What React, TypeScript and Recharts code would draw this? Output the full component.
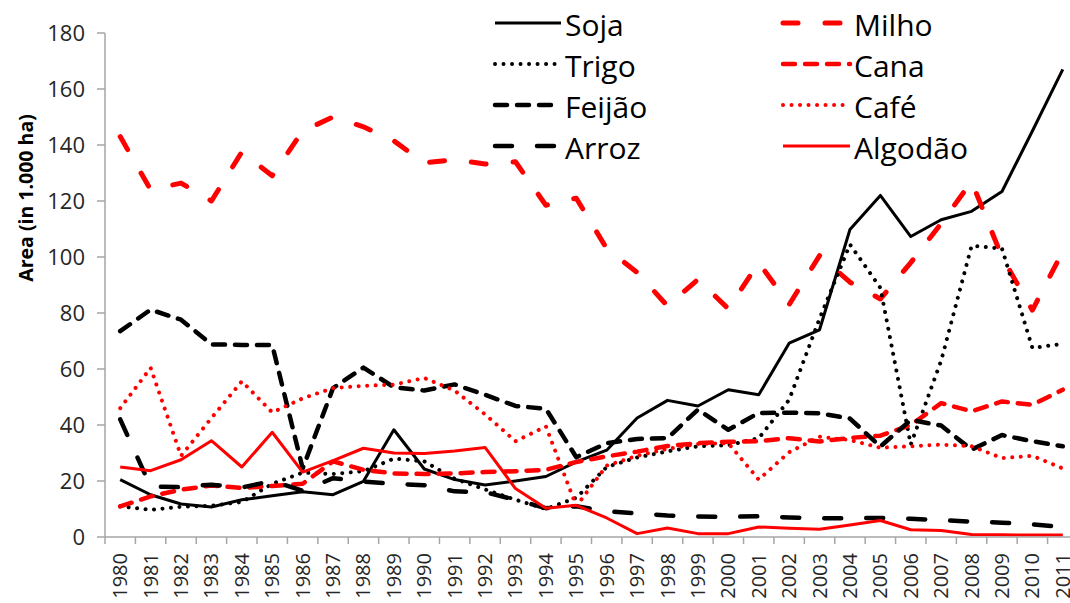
import React from "react";
import { LineChart, Line, XAxis, YAxis, Legend, Label } from "recharts";

// area in 1.000 ha, one value per year
const years = [
  1980, 1981, 1982, 1983, 1984, 1985, 1986, 1987, 1988, 1989, 1990, 1991,
  1992, 1993, 1994, 1995, 1996, 1997, 1998, 1999, 2000, 2001, 2002, 2003,
  2004, 2005, 2006, 2007, 2008, 2009, 2010, 2011,
];
const soja = [
  20.5, 15.1, 11.8, 10.7, 13.3, 14.7, 16.2, 15.1, 19.9, 38.3, 24.3, 20.5,
  18.6, 20, 21.6, 26.8, 31, 42.5, 48.8, 46.8, 52.6, 50.8, 69.2, 74, 109.8,
  122, 107.3, 113.3, 116.3, 123.4, 145, 167,
];
const milho = [
  143, 124, 126.4, 120, 137.5, 129, 145, 150, 146.5, 141.5, 133.6, 134.8,
  133.2, 134, 118.5, 121, 103, 94.5, 82.5, 92, 81.5, 98, 83, 100.5, 91, 85,
  98, 112, 127, 100, 81, 102,
];
const trigo = [
  11, 9.7, 10.8, 11.2, 12.5, 19, 23, 22.5, 23.5, 28, 27, 20.8, 17, 13.3, 10,
  14, 25, 28.4, 30.6, 32.4, 32.8, 35.3, 49, 78, 104.5, 89, 33, 63, 104, 103,
  67.5, 69,
];
const cana = [
  10.9, 14.5, 16.9, 18.4, 17.5, 18.2, 19, 27, 24, 22.7, 22.5, 22.7, 23.2,
  23.5, 24, 26.8, 28.8, 30.5, 32.5, 33.5, 34, 34.2, 35.3, 34.1, 35.4, 36.2,
  40, 47.8, 44.9, 48.4, 47.2, 52.6,
];
const feijao = [
  73.5, 81.2, 77.6, 68.8, 68.6, 68.6, 24.5, 53.2, 60.5, 53.5, 52.3, 54.5,
  50.8, 46.8, 45.8, 28.5, 33.5, 35, 35.3, 45.5, 38.3, 44.3, 44.4, 44.2, 42.3,
  32.3, 41.8, 39.8, 31.2, 36.4, 34.2, 32.4,
];
const cafe = [
  46, 60.4, 29, 42.5, 55.6, 44.5, 49.5, 53.2, 54, 54.4, 56.8, 52.3, 43.8,
  34.2, 39.5, 11, 25.5, 29, 31.5, 33.2, 33.5, 20.5, 30.3, 35.8, 34.6, 31.9,
  32.4, 33, 32.4, 28.2, 29, 24.5,
];
const arroz = [
  42, 18, 17.8, 18.7, 17.7, 20, 16.5, 21, 19.8, 19, 18.5, 16.3, 16, 13.3,
  10.3, 11, 9.2, 8.4, 7.7, 7.3, 7.2, 7.4, 7, 6.7, 6.7, 6.8, 6.5, 6, 5.5, 5.1,
  4.5, 3.6,
];
const algodao = [
  25, 23.7, 27.6, 34.4, 25, 37.4, 23.2, 27.3, 31.7, 30, 29.8, 30.7, 32, 17.3,
  10.3, 11.3, 6.8, 1.2, 3.2, 1.2, 1.2, 3.6, 3.1, 2.8, 4.3, 5.9, 2.6, 2.3, 0.9,
  0.8, 0.7, 0.7,
];
const yTicks = [0, 20, 40, 60, 80, 100, 120, 140, 160, 180];

const data = years.map((year, i) => ({
  year,
  soja: soja[i],
  milho: milho[i],
  trigo: trigo[i],
  cana: cana[i],
  feijao: feijao[i],
  cafe: cafe[i],
  arroz: arroz[i],
  algodao: algodao[i],
}));

const RED = "#ff0000";
const BLACK = "#000000";
const AXIS = "#a6a6a6";
const FONT = "'Open Sans', sans-serif";

// series order = excel order (legend reads row by row)
const series = [
  { key: "soja", name: "Soja", color: BLACK, width: 3, dash: undefined },
  { key: "milho", name: "Milho", color: RED, width: 5, dash: "15 27" },
  { key: "trigo", name: "Trigo", color: BLACK, width: 4, dash: "0.01 8.5" },
  { key: "cana", name: "Cana", color: RED, width: 4.5, dash: "12 10" },
  { key: "feijao", name: "Feijão", color: BLACK, width: 4.5, dash: "12 10" },
  { key: "cafe", name: "Café", color: RED, width: 4, dash: "0.01 8.5" },
  { key: "arroz", name: "Arroz", color: BLACK, width: 4.5, dash: "17 25" },
  { key: "algodao", name: "Algodão", color: RED, width: 3, dash: undefined },
];

const PLOT_W = 973;
const STEP = PLOT_W / years.length;

const YearTick = (props: any) => {
  const { x, y, payload, index } = props;
  const half = STEP / 2;
  const tx = x + 7;
  const ty = y + 16;
  return (
    <g>
      <line x1={x - half} y1={y} x2={x - half} y2={y + 7} stroke={AXIS} strokeWidth={1.5} />
      {index === years.length - 1 && (
        <line x1={x + half} y1={y} x2={x + half} y2={y + 7} stroke={AXIS} strokeWidth={1.5} />
      )}
      <text
        x={tx}
        y={ty}
        transform={`rotate(-90 ${tx} ${ty})`}
        textAnchor="end"
        fontSize={20}
        fill="#262626"
      >
        {payload.value}
      </text>
    </g>
  );
};

const renderLegend = () => {
  // two columns, four rows
  const rows = [0, 1, 2, 3];
  return (
    <svg width={580} height={170} style={{ display: "block" }}>
      {rows.map((r) =>
        [0, 1].map((c) => {
          const s = series[r * 2 + c];
          const y = 23 + r * 41;
          const x0 = c === 0 ? 15 : 303;
          const x1 = c === 0 ? 81 : 370;
          return (
            <g key={s.key}>
              <line
                x1={x0}
                y1={y}
                x2={x1}
                y2={y}
                stroke={s.color}
                strokeWidth={s.width}
                strokeDasharray={s.dash}
                strokeLinecap={s.dash ? "round" : "butt"}
              />
              <text
                x={x1 + 4}
                y={y + 1}
                dominantBaseline="central"
                fontSize={30}
                fill="#000"
              >
                {s.name}
              </text>
            </g>
          );
        })
      )}
    </svg>
  );
};

const AxisTitle = () => (
  <text
    x={25}
    y={198}
    transform="rotate(-90 25 198)"
    textAnchor="middle"
    dominantBaseline="central"
    fontSize={19.5}
    fontWeight="bold"
    fill="#000"
  >
    Area  (in  1.000 ha)
  </text>
);

export default function App() {
  return (
    <div
      style={{
        position: "absolute",
        left: 0,
        top: 0,
        width: 1070,
        height: 603,
        overflow: "hidden",
        background: "#fff",
        fontFamily: FONT,
      }}
    >
      <LineChart
        width={1090}
        height={603}
        data={data}
        margin={{ top: 33, right: 12, bottom: 0, left: 0 }}
      >
        <XAxis
          dataKey="year"
          type="number"
          domain={[1979.5, 2011.5]}
          ticks={years}
          interval={0}
          height={66}
          tickSize={0}
          tickMargin={0}
          tickLine={false}
          axisLine={{ stroke: AXIS, strokeWidth: 1.5 }}
          tick={<YearTick />}
        />
        <YAxis
          width={105}
          domain={[0, 180]}
          ticks={yTicks}
          interval={0}
          tickSize={8}
          tickMargin={12}
          tickLine={{ stroke: AXIS, strokeWidth: 1.5 }}
          axisLine={{ stroke: AXIS, strokeWidth: 1.5 }}
          tick={{ fontSize: 22, fill: "#262626" }}
        >
          <Label content={<AxisTitle />} />
        </YAxis>
        <Legend
          layout="vertical"
          verticalAlign="middle"
          align="center"
          content={renderLegend}
          wrapperStyle={{ left: 480, top: 0, width: 580, height: 170 }}
        />
        {series.map((s) => (
          <Line
            key={s.key}
            dataKey={s.key}
            name={s.name}
            type="linear"
            stroke={s.color}
            strokeWidth={s.width}
            strokeDasharray={s.dash}
            strokeLinecap={s.dash ? "round" : "butt"}
            strokeLinejoin="round"
            dot={false}
            activeDot={false}
            isAnimationActive={false}
          />
        ))}
      </LineChart>
    </div>
  );
}
